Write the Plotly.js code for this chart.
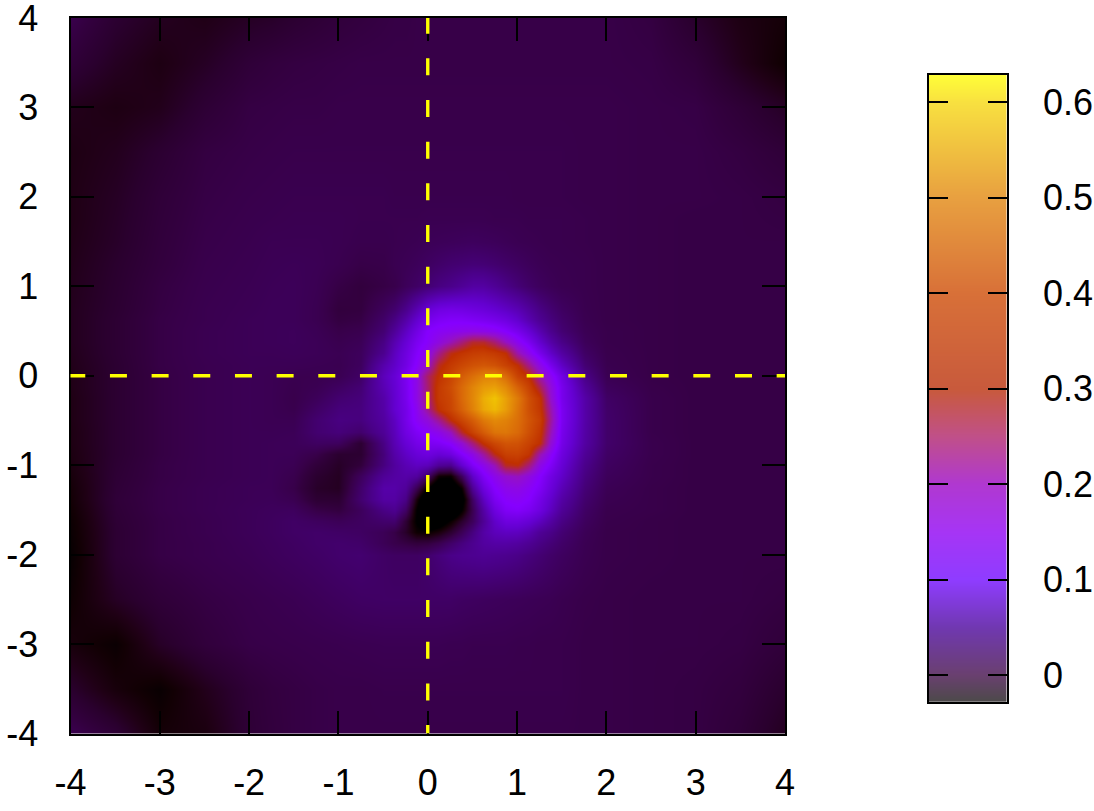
<!DOCTYPE html>
<html>
<head>
<meta charset="utf-8">
<script src="https://cdn.plot.ly/plotly-3.0.1.min.js"></script>
<style>
  html, body { margin: 0; padding: 0; background: #fff; }
  #chart { width: 1094px; height: 811px; }
</style>
</head>
<body>
<div id="chart"></div>
<script>
// === Datos ===
const xGrid = [-4, -3.5, -3, -2.5, -2, -1.75, -1.5, -1.25, -1, -0.75, -0.5,
  -0.375, -0.25, -0.125, 0, 0.125, 0.25, 0.375, 0.5, 0.625, 0.75, 0.875, 1, 1.125, 1.25, 1.375, 1.5,
  1.75, 2, 2.5, 3, 3.5, 4];
const yGrid = [4, 3.5, 3, 2.5, 2, 1.75, 1.5, 1.25, 1, 0.75, 0.625, 0.5, 0.375, 0.25, 0.125, 0,
  -0.125, -0.25, -0.375, -0.5, -0.625, -0.75, -0.875, -1, -1.125, -1.25, -1.375, -1.5, -1.625, -1.75, -1.875, -2,
  -2.5, -3, -3.5, -4];

// valores en milesimas, una fila por cada yGrid
const zMilli = [
  [ 16,  2, -6,-10, -4, -2,  2,  5,  8, 10, 12,  13, 13, 14, 14, 14, 14, 14, 14, 14, 14, 14, 14, 14, 14, 14, 14,  14, 14, 11, -1,-12,-18],
  [  6, -5,-12, -4,  6,  9, 11, 12, 13, 14, 14,  14, 14, 14, 14, 14, 14, 14, 14, 14, 14, 14, 14, 14, 14, 14, 14,  14, 14, 13,  7, -8,-22],
  [ -8,-12, -8,  4, 12, 13, 14, 14, 15, 15, 15,  15, 15, 15, 15, 15, 15, 15, 15, 15, 15, 15, 15, 15, 15, 15, 15,  15, 15, 14, 13,  5, -4],
  [-12, -7,  2, 11, 14, 15, 16, 16, 16, 16, 16,  16, 16, 16, 16, 16, 16, 16, 16, 16, 16, 16, 16, 16, 16, 16, 16,  15, 15, 14, 14, 11,  6],
  [-11, -4,  6, 13, 16, 17, 18, 18, 18, 18, 18,  17, 17, 17, 17, 17, 17, 17, 17, 17, 17, 17, 16, 16, 16, 16, 16,  15, 15, 14, 14, 13, 11],
  [-11, -3,  7, 14, 17, 18, 19, 19, 19, 18, 18,  18, 18, 18, 19, 19, 19, 19, 19, 19, 18, 18, 18, 17, 17, 17, 17,  16, 15, 14, 13, 13, 12],
  [-10, -2,  8, 15, 18, 20, 20, 20, 19, 17, 17,  18, 19, 20, 22, 23, 24, 25, 26, 25, 24, 22, 20, 19, 18, 17, 17,  16, 15, 14, 13, 13, 13],
  [ -9,  0,  9, 16, 19, 21, 22, 21, 18, 14, 15,  19, 21, 24, 28, 32, 36, 38, 40, 39, 36, 32, 28, 24, 21, 19, 18,  17, 15, 14, 13, 13, 13],
  [ -8,  1, 11, 17, 20, 22, 23, 20, 13,  9, 13,  16, 24, 30, 38, 46, 52, 60, 68, 68, 60, 50, 40, 32, 26, 22, 19,  17, 15, 14, 13, 13, 13],
  [ -7,  2, 12, 18, 21, 23, 23, 19,  9, 10, 25,  35, 52, 78,105,118,122,120,115,110,102, 92, 80, 64, 48, 37, 28,  18, 15, 14, 13, 13, 13],
  [ -7,  3, 13, 18, 22, 23, 23, 19, 11, 13, 32,  48, 72,100,128,140,145,145,140,135,128,118,100, 78, 58, 44, 33,  19, 15, 14, 13, 13, 13],
  [ -7,  3, 13, 19, 22, 23, 24, 21, 15, 18, 38,  62, 90,120,150,160,165,170,175,172,165,150,130,105, 78, 54, 38,  21, 16, 14, 13, 13, 13],
  [ -7,  3, 13, 19, 22, 23, 24, 22, 18, 22, 48,  78,105,135,155,180,210,245,280,280,250,205,165,135,100, 72, 50,  24, 16, 14, 13, 13, 13],
  [ -8,  3, 13, 19, 22, 22, 23, 22, 20, 25, 55,  88,115,145,175,235,290,310,325,330,320,300,215,170,130, 95, 68,  30, 17, 14, 13, 13, 13],
  [ -9,  2, 13, 18, 21, 21, 21, 20, 19, 26, 75,  95,120,155,200,285,320,345,365,375,365,335,300,235,175,130, 92,  38, 18, 14, 13, 13, 13],
  [-10,  2, 12, 18, 21, 20, 18, 18, 20, 30, 85, 105,135,175,255,305,340,385,420,455,460,415,335,302,215,165,120,  50, 20, 14, 13, 13, 13],
  [-10,  2, 12, 18, 21, 20, 17, 20, 28, 38, 80, 102,132,175,250,320,355,410,460,500,510,470,395,335,265,185,130,  62, 25, 15, 13, 13, 13],
  [-11,  2, 12, 18, 21, 20, 16, 24, 36, 42, 72, 100,130,175,245,320,345,410,465,530,560,510,440,360,310,195,130,  72, 30, 16, 13, 13, 13],
  [-11,  2, 12, 18, 21, 20, 17, 30, 42, 44, 70, 100,125,165,230,305,340,395,455,520,545,505,430,360,315,215,135,  72, 32, 16, 13, 13, 13],
  [-11,  2, 12, 18, 21, 20, 20, 36, 46, 44, 66,  90,125,160,185,230,295,340,385,440,470,455,420,370,330,225,135,  72, 33, 16, 13, 13, 13],
  [-12,  2, 12, 18, 21, 21, 22, 36, 42, 34, 60,  85,118,140,155,170,205,280,335,385,430,435,410,360,315,210,130,  70, 33, 16, 13, 13, 13],
  [-12,  2, 12, 18, 21, 22, 23, 28, 26,  3, 48,  80,105,125,135,140,155,190,245,305,345,370,365,335,300,190,125,  68, 33, 17, 13, 13, 13],
  [-13,  2, 12, 18, 21, 22, 22, 15,  1,  2, 42,  72, 92,108,115,105,115,145,175,225,290,330,335,310,215,160,115,  60, 30, 17, 13, 13, 13],
  [-14,  3, 13, 18, 21, 22, 20,  7, -3,  8, 45,  65, 80, 90, 85, 60, 55,100,140,170,210,285,295,245,175,140,105,  52, 27, 16, 13, 13, 13],
  [-16,  4, 13, 18, 21, 22, 17,  1, -5, 25, 60,  68, 72, 65, 30,-22,-25, 25, 95,140,170,195,205,180,150,120, 95,  46, 24, 16, 13, 13, 13],
  [-18,  5, 14, 19, 22, 22, 15, -2, -5, 33, 72,  72, 62, 20,-30,-60,-60,-25, 60,115,150,170,175,160,140,110, 82,  40, 21, 15, 13, 13, 13],
  [-19,  6, 14, 19, 22, 23, 19,  3,  2, 36, 68,  68, 50,-15,-70,-85,-85,-45, 30, 90,135,155,160,150,125, 98, 70,  35, 19, 15, 13, 13, 13],
  [-21,  5, 14, 19, 23, 25, 26, 14, 10, 25, 48,  55, 30,-30,-80,-85,-70,-30, 20, 70,115,140,145,135,115, 88, 60,  30, 17, 15, 13, 13, 13],
  [-23,  4, 13, 18, 23, 26, 30, 26, 22, 27, 34,  35,  5,-32,-60,-50,-25,  0, 25, 60, 95,115,115,105, 88, 68, 48,  26, 16, 14, 13, 13, 13],
  [-24,  3, 13, 18, 23, 26, 30, 32, 30, 28, 22,  14, -2,-22,-25,-15,  2, 22, 45, 70, 85, 90, 88, 78, 60, 50, 38,  22, 15, 14, 13, 13, 13],
  [-25,  3, 13, 17, 22, 25, 28, 32, 34, 32, 22,  16, 12,  8, 10, 18, 32, 44, 55, 66, 70, 70, 66, 58, 48, 40, 32,  20, 15, 14, 13, 13, 13],
  [-26,  3, 13, 17, 21, 24, 27, 30, 34, 36, 30,  28, 28, 28, 34, 42, 50, 54, 56, 58, 56, 54, 50, 44, 38, 32, 27,  19, 15, 14, 13, 13, 13],
  [-22, -4,  6, 12, 16, 18, 20, 23, 26, 29, 30,  30, 30, 30, 30, 30, 30, 28, 27, 26, 25, 24, 23, 22, 21, 20, 18,  15, 14, 13, 13, 13, 11],
  [-16,-24, -3,  8, 14, 15, 16, 17, 18, 19, 20,  20, 20, 20, 20, 20, 19, 19, 18, 18, 18, 18, 17, 17, 16, 16, 16,  14, 14, 13, 13, 12,  7],
  [  0,-16,-25, -8,  6, 10, 12, 14, 15, 15, 16,  16, 16, 16, 16, 16, 16, 16, 16, 16, 16, 16, 16, 16, 16, 16, 16,  14, 14, 13, 12,  9,  0],
  [ 18,  5,-18,-14,  5,  9, 12, 14, 15, 15, 15,  15, 15, 15, 15, 15, 15, 15, 15, 15, 15, 15, 15, 15, 15, 15, 15,  14, 14, 13, 12,  6, -6]
];

const axisTicks = [-4, -3, -2, -1, 0, 1, 2, 3, 4];
const axisLabels = ["-4", "-3", "-2", "-1", "0", "1", "2", "3", "4"];

const heatLevels = [-0.03, -0.02, -0.01, 0, 0.01, 0.015, 0.05, 0.1, 0.15, 0.2, 0.25, 0.3, 0.4, 0.5, 0.6, 0.631];
const heatColors = ["#000000", "#120004", "#200016", "#2a002e", "#33003f", "#38004a", "#4a0088", "#6400d0", "#8600ff", "#9410c8", "#a81c70", "#c03000", "#d86408", "#e89a08", "#f6de00", "#ffff20"];

const barLevels = [-0.0283, 0, 0.05, 0.1, 0.15, 0.2, 0.25, 0.3, 0.4, 0.5, 0.6, 0.629];
const barColors = ["#4d4a4a", "#6a4070", "#7038b0", "#8f3cff", "#a635f5", "#b038d0", "#c0508a", "#c85a3c", "#d87038", "#e8a040", "#f8e040", "#ffff38"];
const barTicks = [0, 0.1, 0.2, 0.3, 0.4, 0.5, 0.6];
const barLabels = ["0", "0.1", "0.2", "0.3", "0.4", "0.5", "0.6"];

// las lineas empiezan un poco fuera para que el trazo caiga igual que en la imagen
const dashX = [-4.025, 4];
const dashY = [4.015, -4];

// === Escalas de color ===
function makeScale(levels, colors) {
  const lo = levels[0];
  const hi = levels[levels.length - 1];
  return levels.map((v, i) => [(v - lo) / (hi - lo), colors[i]]);
}

const W = 1094;
const H = 811;
const fontBase = { family: "Liberation Sans, Arial, sans-serif", size: 36, color: "#000" };

const traces = [
  {
    type: "heatmap",
    x: xGrid,
    y: yGrid,
    z: zMilli.map(row => row.map(v => v / 1000)),
    zsmooth: "best",
    zmin: heatLevels[0],
    zmax: heatLevels[heatLevels.length - 1],
    colorscale: makeScale(heatLevels, heatColors),
    showscale: false,
    hoverinfo: "skip"
  },
  {
    // barra de color, dibujada como heatmap propio porque sale mas palida
    type: "heatmap",
    x: [0, 1],
    y: barLevels,
    z: barLevels.map(v => [v, v]),
    zsmooth: "best",
    zmin: barLevels[0],
    zmax: barLevels[barLevels.length - 1],
    colorscale: makeScale(barLevels, barColors),
    showscale: false,
    xaxis: "x2",
    yaxis: "y2",
    hoverinfo: "skip"
  }
];

// shapes y no trazas: el amarillo tiene que quedar encima de las marcas de los ejes
const dashLine = { color: "#ffff00", width: 3.4, dash: "17px,24.67px" };

const mainAxis = {
  range: [-4, 4],
  tickmode: "array",
  tickvals: axisTicks,
  ticktext: axisLabels,
  ticks: "inside",
  ticklen: 23,
  tickwidth: 2,
  tickcolor: "#000",
  showline: true,
  linecolor: "#000",
  linewidth: 2,
  mirror: "ticks",
  showgrid: false,
  zeroline: false,
  tickfont: fontBase,
  ticklabeloverflow: "allow"
};

const layout = {
  width: W,
  height: H,
  margin: { l: 0, r: 0, t: 0, b: 0 },
  paper_bgcolor: "#fff",
  plot_bgcolor: "#fff",
  showlegend: false,
  shapes: [
    { type: "line", xref: "x", yref: "y", layer: "above", x0: dashX[0], x1: dashX[1], y0: 0, y1: 0, line: dashLine },
    { type: "line", xref: "x", yref: "y", layer: "above", x0: 0, x1: 0, y0: dashY[0], y1: dashY[1], line: dashLine }
  ],
  xaxis: Object.assign({}, mainAxis, {
    domain: [70.5 / W, 785 / W],
    anchor: "y",
    ticklabelstandoff: 16
  }),
  yaxis: Object.assign({}, mainAxis, {
    domain: [(H - 733.5) / H, (H - 18) / H],
    anchor: "x",
    ticklabelstandoff: 23
  }),
  xaxis2: {
    domain: [928.7 / W, 1006.7 / W],
    anchor: "y2",
    range: [0, 1],
    showticklabels: false,
    ticks: "",
    showgrid: false,
    zeroline: false,
    showline: true,
    linecolor: "#000",
    linewidth: 2,
    mirror: true
  },
  yaxis2: {
    domain: [(H - 702) / H, (H - 74.7) / H],
    anchor: "x2",
    side: "right",
    range: [barLevels[0], barLevels[barLevels.length - 1]],
    tickmode: "array",
    tickvals: barTicks,
    ticktext: barLabels,
    ticks: "inside",
    ticklen: 19,
    tickwidth: 2,
    tickcolor: "#000",
    showline: true,
    linecolor: "#000",
    linewidth: 2,
    mirror: "ticks",
    showgrid: false,
    zeroline: false,
    tickfont: fontBase,
    ticklabeloverflow: "allow",
    ticklabelstandoff: 27
  }
};

Plotly.newPlot("chart", traces, layout, { displayModeBar: false, staticPlot: true });
</script>
</body>
</html>
